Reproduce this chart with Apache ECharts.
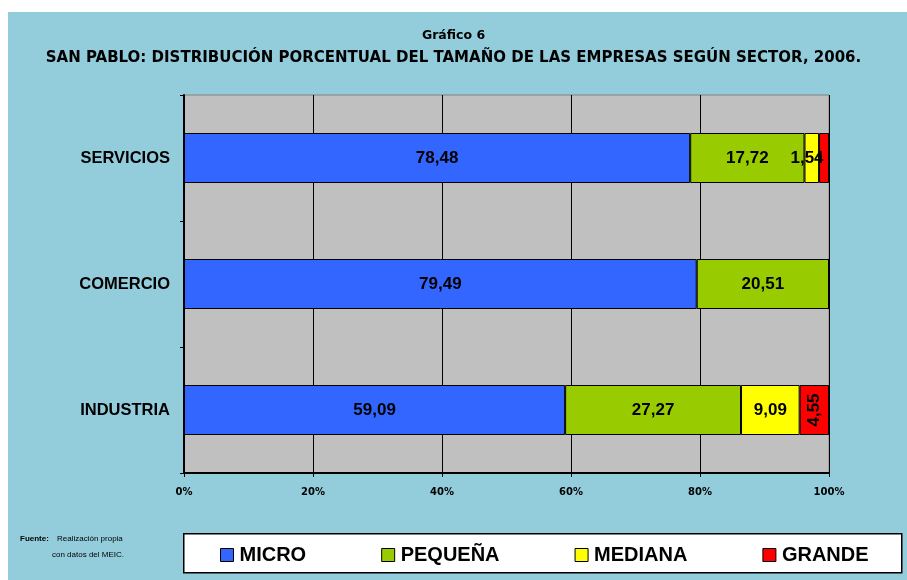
<!DOCTYPE html>
<html><head><meta charset="utf-8">
<script src="https://cdn.jsdelivr.net/npm/echarts@6/dist/echarts.min.js"></script>
<style>html,body{margin:0;padding:0;background:#fff}#c{width:907px;height:580px}</style>
</head><body><div id="c"></div>
<script>
const categories = ['INDUSTRIA', 'COMERCIO', 'SERVICIOS'];
const micro   = [59.09, 79.49, 78.48];
const pequena = [27.27, 20.51, 17.72];
const mediana = [9.09, 0, 2.26];
const grande  = [4.55, 0, 1.54];
const xTicks  = ['0%', '20%', '40%', '60%', '80%', '100%'];

const fmt = v => v.toFixed(2).replace('.', ',');
const lblBase = {show: true, position: 'inside', color: '#000', fontFamily: 'Liberation Sans, Arial', fontWeight: 'bold', fontSize: 17,
  formatter: p => p.value > 0 ? fmt(p.value) : ''};

function mk(name, data, color, perItem) {
  return {
    name, type: 'bar', stack: 'total', barWidth: 50, data: data.map((v, i) => perItem ? perItem(v, i) : v),
    itemStyle: {color, borderColor: '#000', borderWidth: 1},
    label: lblBase, emphasis: {disabled: true}
  };
}

const chart = echarts.init(document.getElementById('c'), null, {renderer: 'canvas'});
chart.setOption({
  animation: false,
  backgroundColor: '#fff',
  graphic: [
    {type: 'rect', left: 8, top: 12, shape: {width: 899, height: 568}, style: {fill: '#93CDDC'}, z: -10},
    {type: 'rect', left: 183, top: 533, shape: {width: 718, height: 39}, style: {fill: '#fff', stroke: '#000', lineWidth: 1.5}, z: -5},
    {type: 'text', left: 20, top: 535, style: {text: 'Fuente:', font: 'bold 8px Liberation Sans', fill: '#000'}},
    {type: 'text', left: 57, top: 535, style: {text: 'Realización propia', font: '8px Liberation Sans Narrow, Liberation Sans', fill: '#000'}},
    {type: 'text', left: 52, top: 551, style: {text: 'con datos del MEIC.', font: '8px Liberation Sans Narrow, Liberation Sans', fill: '#000'}}
  ],
  title: [
    {text: 'Gráfico 6', left: 'center', top: 24, textStyle: {fontFamily: 'DejaVu Sans', fontWeight: 'bold', fontSize: 12.5, color: '#000'}},
    {text: 'SAN PABLO: DISTRIBUCIÓN PORCENTUAL DEL TAMAÑO DE LAS EMPRESAS SEGÚN SECTOR, 2006.', left: 'center', top: 46,
     textStyle: {fontFamily: 'DejaVu Sans', fontWeight: 'bold', fontSize: 15, color: '#000'}}
  ],
  legend: {
    top: 540, left: 215, itemGap: 75, itemWidth: 13, itemHeight: 13, icon: 'rect',
    itemStyle: {borderColor: '#000', borderWidth: 1},
    textStyle: {fontFamily: 'Liberation Sans', fontWeight: 'bold', fontSize: 20, color: '#000', padding: [0, 0, 0, 1]},
    data: ['MICRO', 'PEQUEÑA', 'MEDIANA', 'GRANDE']
  },
  grid: {left: 184, right: 78, top: 95, bottom: 107, show: true, backgroundColor: '#C0C0C0', borderColor: '#808080', borderWidth: 1},
  xAxis: {
    type: 'value', min: 0, max: 100, interval: 20,
    axisLine: {show: true, onZero: false, lineStyle: {color: '#000', width: 2}},
    axisTick: {show: true, length: 4, lineStyle: {color: '#000'}},
    splitLine: {show: true, lineStyle: {color: '#000', width: 1}},
    axisLabel: {margin: 14, color: '#000', fontFamily: 'DejaVu Sans', fontWeight: 'bold', fontSize: 10,
      formatter: v => xTicks[Math.round(v / 20)]}
  },
  yAxis: {
    type: 'category', data: categories,
    axisLine: {show: true, lineStyle: {color: '#000', width: 2}},
    axisTick: {show: true, length: 4, lineStyle: {color: '#000'}},
    axisLabel: {margin: 14, color: '#000', fontFamily: 'Liberation Sans', fontWeight: 'bold', fontSize: 16.5}
  },
  series: [
    mk('MICRO', micro, '#3366FF'),
    mk('PEQUEÑA', pequena, '#99CC00'),
    mk('MEDIANA', mediana, '#FFFF00', (v, i) => i === 2 ? {value: v, label: {show: false}} : v),
    mk('GRANDE', grande, '#FF0000', (v, i) => {
      if (i === 0) return {value: v, label: {rotate: 90}};
      if (i === 2) return {value: v, label: {offset: [-17, 0]}};
      return v;
    })
  ]
});
</script></body></html>
